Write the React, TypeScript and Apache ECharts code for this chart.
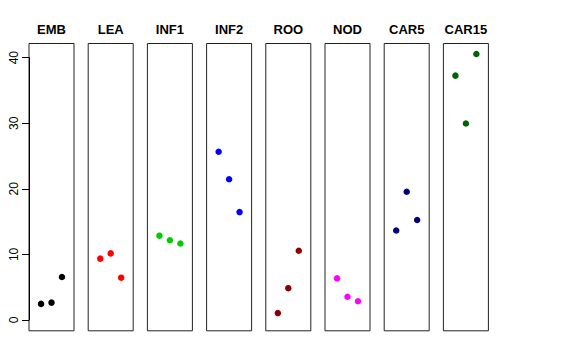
import React, { useEffect, useRef } from "react";
import * as echarts from "echarts";

const panels = ["EMB", "LEA", "INF1", "INF2", "ROO", "NOD", "CAR5", "CAR15"];
const colors = ["#000000", "#FF0000", "#00CD00", "#0000FF", "#8B0000", "#FF00FF", "#000080", "#006400"];
const positions = [1, 2, 3];
const values: number[][] = [
  [2.5, 2.7, 6.6],
  [9.4, 10.2, 6.5],
  [12.9, 12.2, 11.7],
  [25.7, 21.5, 16.5],
  [1.1, 4.9, 10.6],
  [6.4, 3.6, 2.9],
  [13.7, 19.6, 15.3],
  [37.3, 30.0, 40.6],
];
const yTicks = [0, 10, 20, 30, 40];

export default function App() {
  const ref = useRef<HTMLDivElement>(null);
  useEffect(() => {
    if (!ref.current) return;
    const chart = echarts.init(ref.current, undefined, { renderer: "svg" });
    const left0 = 29;
    const pitch = 59.2;
    const w = 45;
    const top = 43.5;
    const h = 287.3;
    const grids: any[] = [];
    const xAxes: any[] = [];
    const yAxes: any[] = [];
    const series: any[] = [];
    const graphics: any[] = [];
    panels.forEach((name, i) => {
      const left = left0 + i * pitch;
      grids.push({ left, top, width: w, height: h, show: true, borderColor: "#222", borderWidth: 1, backgroundColor: "transparent" });
      xAxes.push({ type: "value", gridIndex: i, min: -0.15, max: 4.15, show: false });
      yAxes.push({ type: "value", gridIndex: i, min: -1.6, max: 42.2, show: false });
      series.push({
        type: "scatter",
        xAxisIndex: i,
        yAxisIndex: i,
        symbol: "circle",
        symbolSize: 6.5,
        itemStyle: { color: colors[i], opacity: 1 },
        data: values[i].map((v, j) => [positions[j], v]),
      });
      graphics.push({
        type: "text",
        x: left + w / 2,
        y: 29,
        style: {
          text: name,
          font: "bold 13px 'Liberation Sans', Arial, sans-serif",
          fill: "#000",
          textAlign: "center",
          textVerticalAlign: "middle",
        },
      });
    });
    // shared y axis
    const axTop = 57.7;
    const axH = 262.3;
    grids.push({ left: left0, top: axTop, width: 1, height: axH, show: false });
    xAxes.push({ type: "value", gridIndex: 8, show: false, min: 0, max: 1 });
    yAxes.push({
      type: "value",
      gridIndex: 8,
      min: yTicks[0],
      max: yTicks[yTicks.length - 1],
      interval: 10,
      axisLine: { show: true, lineStyle: { color: "#000", width: 1 } },
      axisTick: { show: true, length: 7, lineStyle: { color: "#000" } },
      splitLine: { show: false },
      axisLabel: {
        rotate: 90,
        margin: 9,
        color: "#000",
        fontSize: 12,
        fontFamily: "'Liberation Sans', Arial, sans-serif",
      },
    });
    chart.setOption({
      animation: false,
      backgroundColor: "#fff",
      grid: grids,
      xAxis: xAxes,
      yAxis: yAxes,
      series,
      graphic: graphics,
    });
    return () => chart.dispose();
  }, []);
  return <div ref={ref} style={{ width: 576, height: 360, margin: -8 }} />;
}
